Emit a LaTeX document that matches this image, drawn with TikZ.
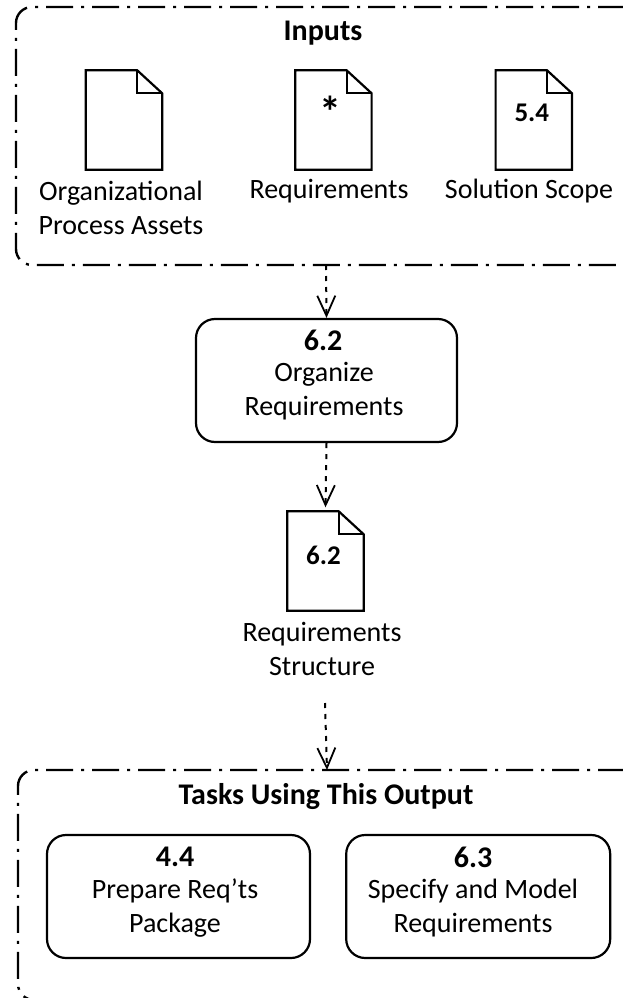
\documentclass[tikz,border=0pt]{standalone}
\usepackage{fontspec}
\setmainfont{Carlito}
\usetikzlibrary{arrows.meta,positioning}

\newcommand{\docoutline}[1]{
  \draw[doc line] (#1.south west) -- (#1.north west) -- ([xshift=-25pt]#1.north east)
    -- ([yshift=-23pt]#1.north east) -- (#1.south east) -- cycle;
  \draw[doc line] ([xshift=-25pt]#1.north east) -- ([xshift=-25pt,yshift=-23pt]#1.north east)
    -- ([yshift=-23pt]#1.north east);
}

\begin{document}
\begin{tikzpicture}[x=1pt,y=-1pt,>={Straight Barb[length=20pt,width=18pt,line width=1.8pt]},
  doc node/.style={minimum width=76pt,minimum height=99pt,inner sep=0pt},
  task node/.style={draw,line width=2.2pt,rounded corners=19pt,minimum height=123pt,inner sep=0pt},
  label node/.style={align=center,inner sep=0pt,font=\fontsize{28}{34}\selectfont},
  head node/.style={inner sep=0pt,font=\fontsize{30}{34}\selectfont\bfseries},
  num node/.style={inner sep=0pt,font=\fontsize{27}{30}\selectfont\bfseries},
  doc line/.style={line width=2.2pt,line join=miter},
  group line/.style={line width=2.4pt,rounded corners=16pt,dash pattern=on 27pt off 8pt on 3pt off 8pt},
  flow line/.style={->,line width=2pt,dash pattern=on 5pt off 6pt}]
  \useasboundingbox (0,0) rectangle (623,998);

  % inputs
  \draw[group line] (625,7) -- (16,7) -- (16,265) -- (625,265);
  \coordinate (in bottom) at (326,265);
  \node[head node] (in title) at (323,33) {Inputs};
  \node[doc node] (d1) at (124,120) {};
  \node[doc node] (d2) [right=133pt of d1] {};
  \node[doc node] (d3) [right=124pt of d2] {};
  \node[num node,font=\fontsize{44}{44}\selectfont\bfseries] (n2) at ([shift={(-3,-8)}]d2.center) {*};
  \node[num node] (n3) at ([shift={(-2,-7)}]d3.center) {5.4};
  \node[label node] (l1) at (121,208) {Organizational\\Process Assets};
  \node[label node] (l2) at (329,191) {Requirements};
  \node[label node] (l3) at (529,191) {Solution Scope};

  % task
  \node[task node,minimum width=261pt,align=center] (t1) at (326.5,380.5) {};
  \node[head node] (t1 num) at (323,340) {6.2};
  \node[label node] (t1 text) at (324,391) {Organize\\Requirements};

  % output
  \node[doc node] (d4) at (325.5,561) {};
  \node[num node] (n4) at ([shift={(-2,-6)}]d4.center) {6.2};
  \node[label node] (l4) at (322,649) {Requirements\\Structure};
  \coordinate (out start) at (325,703);

  % tasks using this output
  \draw[group line] (625,770) -- (18,770) -- (18,1000) -- (60,1000);
  \coordinate (out top) at (327,770);
  \node[head node] (out title) at (326,797) {Tasks Using This Output};
  \node[task node,minimum width=263pt] (t2) at (178.5,896.5) {};
  \node[task node,minimum width=264pt] (t3) [right=34pt of t2] {};
  \node[head node] (t2 num) at (175,857) {4.4};
  \node[head node] (t3 num) at (473,857) {6.3};
  \node[label node] (t2 text) at (175,908) {Prepare Req'ts\\Package};
  \node[label node] (t3 text) at (473,908) {Specify and Model\\Requirements};

  \foreach \d in {d1,d2,d3,d4} {
    \docoutline{\d}
  }

  \draw[flow line] (in bottom) -- (t1.north);
  \draw[flow line] (t1.south) -- ([yshift=4pt]d4.north);
  \draw[flow line] (out start) -- (out top);
\end{tikzpicture}
\end{document}
